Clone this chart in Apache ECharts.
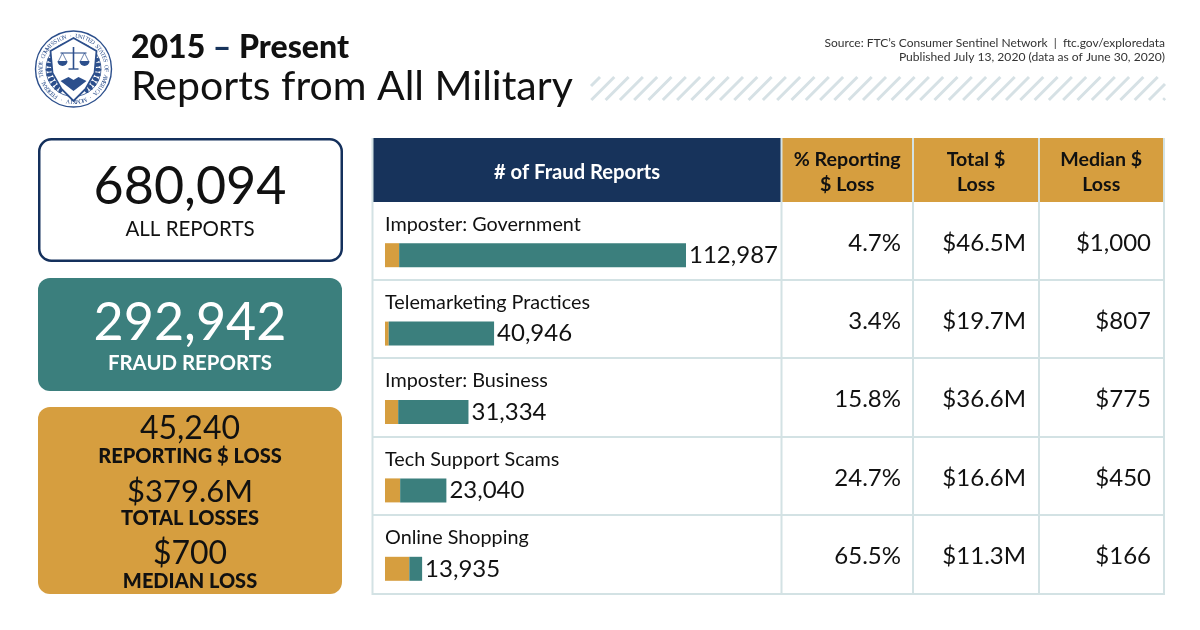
<!DOCTYPE html>
<html>
<head>
<meta charset="utf-8">
<title>Reports from All Military</title>
<script src="https://cdn.jsdelivr.net/npm/echarts@6/dist/echarts.min.js"></script>
<style>html,body{margin:0;padding:0;background:#fff}#main{width:1200px;height:630px}</style>
</head>
<body>
<div id="main"></div>
<script>
var categories = ['Imposter: Government', 'Telemarketing Practices', 'Imposter: Business', 'Tech Support Scams', 'Online Shopping'];
var fraudReports = [112987, 40946, 31334, 23040, 13935];
// reports with a loss / without
var withLoss = [5310, 1392, 4951, 5691, 9127];
var withoutLoss = [107677, 39554, 26383, 17349, 4808];
var pctLoss = ['4.7%', '3.4%', '15.8%', '24.7%', '65.5%'];
var totalLoss = ['$46.5M', '$19.7M', '$36.6M', '$16.6M', '$11.3M'];
var medianLoss = ['$1,000', '$807', '$775', '$450', '$166'];
var headers = ['% Reporting\n$ Loss', 'Total $\nLoss', 'Median $\nLoss'];

var FONT = 'Lato';
var NAVY = '#17335b', TEAL = '#3b7f7d', GOLD = '#d69e3f', LINE = '#d3e2e4', INK = '#111';
var rowY = [202, 280, 358, 437, 515, 594];
var colX = [373, 782, 913.5, 1039.5, 1164];
var colRight = [901, 1026, 1151];

var g = [];
function txt(s, x, y, size, weight, color, align) {
    g.push({type: 'text', x: x, y: y, z: 5, silent: true, style: {
        text: s, fontFamily: FONT, fontSize: size, fontWeight: weight, fill: color,
        align: align || 'center', verticalAlign: 'middle', lineHeight: size * 1.25
    }});
}
function box(x, y, w, h, fill, r, stroke, lw) {
    g.push({type: 'rect', z: 1, silent: true, shape: {x: x, y: y, width: w, height: h, r: r || 0},
        style: {fill: fill, stroke: stroke || null, lineWidth: lw || 0}});
}
function seg(x1, y1, x2, y2, color, lw) {
    g.push({type: 'line', z: 2, silent: true, shape: {x1: x1, y1: y1, x2: x2, y2: y2},
        style: {stroke: color, lineWidth: lw}});
}

// header
g.push({type: 'text', x: 131, y: 48, z: 5, style: {
    text: '{a|2015 }{b|–}{a| Present}', align: 'left', verticalAlign: 'middle',
    rich: {
        a: {fontFamily: FONT, fontSize: 32, fontWeight: 900, fill: INK},
        b: {fontFamily: FONT, fontSize: 32, fontWeight: 900, fill: NAVY}
    }
}});
txt('Reports from All Military', 131, 87, 41, 400, INK, 'left');
txt('Source: FTC’s Consumer Sentinel Network  |  ftc.gov/exploredata', 1165, 43, 12, 400, '#333', 'right');
txt('Published July 13, 2020 (data as of June 30, 2020)', 1165, 57, 12.1, 400, '#333', 'right');

// hatch strip
var hL = 591, hR = 1165, hT = 77, hB = 100;
for (var hx = hL - 14; hx < hR; hx += 14.3) {
    var x1 = hx, y1 = hB, x2 = hx + 23, y2 = hT;
    if (x1 < hL) { y1 = hB - (hL - x1); x1 = hL; }
    if (x2 > hR) { y2 = hT + (x2 - hR); x2 = hR; }
    seg(x1, y1, x2, y2, '#d6e1e5', 3);
}

// seal
var sx = 73.5, sy = 69, sealBlue = '#2c4f8c';
g.push({type: 'circle', z: 1, shape: {cx: sx, cy: sy, r: 38}, style: {fill: '#fff', stroke: sealBlue, lineWidth: 1.4}});
g.push({type: 'circle', z: 1, shape: {cx: sx, cy: sy, r: 27.5}, style: {fill: '#fff', stroke: sealBlue, lineWidth: 0.8}});
var ring = 'FEDERAL TRADE COMMISSION · UNITED STATES OF AMERICA · MCMXIV · ';
for (var i = 0; i < ring.length; i++) {
    var a = -Math.PI * 0.82 + i / ring.length * Math.PI * 2;   // clockwise, from lower left
    g.push({type: 'text', z: 3, x: sx + 32.7 * Math.sin(a), y: sy - 32.7 * Math.cos(a), rotation: -a, silent: true,
        style: {text: ring[i], fontFamily: 'Liberation Serif', fontSize: 6, fill: sealBlue, align: 'center', verticalAlign: 'middle'}});
}
// wreath
for (var k = 0; k < 9; k++) {
    var b = 1.0 + k * 0.2;
    [1, -1].forEach(function (side) {
        g.push({type: 'ellipse', z: 2, x: sx + side * 24.5 * Math.sin(b), y: sy - 24.5 * Math.cos(b), rotation: -side * b,
            shape: {cx: 0, cy: 0, rx: 2, ry: 3.4}, style: {fill: sealBlue}});
    });
}
g.push({type: 'polygon', z: 3, shape: {points: [[sx, sy - 31], [sx + 23, sy - 18], [sx + 21, sy + 4], [sx + 12, sy + 20], [sx, sy + 32], [sx - 12, sy + 20], [sx - 21, sy + 4], [sx - 23, sy - 18]]},
    style: {fill: '#fff', stroke: sealBlue, lineWidth: 1.8}});
g.push({type: 'polygon', z: 3, shape: {points: [[sx, sy + 22], [sx + 13, sy + 12], [sx + 5, sy + 8], [sx, sy + 11], [sx - 5, sy + 8], [sx - 13, sy + 12]]}, style: {fill: sealBlue}});
function sealLine(a1, b1, a2, b2, w) {
    g.push({type: 'line', z: 4, shape: {x1: sx + a1, y1: sy + b1, x2: sx + a2, y2: sy + b2}, style: {stroke: sealBlue, lineWidth: w}});
}
sealLine(0, -22, 0, 0, 1.6);
sealLine(-13, -16, 13, -16, 1.1);
sealLine(-5, 0, 5, 0, 1.4);
[-11, 11].forEach(function (d) {
    sealLine(d, -16, d - 4, -8, 0.7);
    sealLine(d, -16, d + 4, -8, 0.7);
    g.push({type: 'sector', z: 4, shape: {cx: sx + d, cy: sy - 8, r: 5, startAngle: 0, endAngle: Math.PI}, style: {fill: sealBlue}});
});

// left cards
box(39.25, 139.25, 302.5, 121.5, '#fff', 12, '#14305c', 2.5);
txt('680,094', 190, 187, 52, 400, INK);
txt('ALL REPORTS', 190, 229, 20.5, 400, INK);
box(38, 278, 304, 113, TEAL, 12);
txt('292,942', 190, 323, 52, 400, '#fff');
txt('FRAUD REPORTS', 190, 363, 20.4, 700, '#fff');
box(38, 407, 304, 187, GOLD, 12);
txt('45,240', 190, 429, 32, 400, INK);
txt('REPORTING $ LOSS', 190, 457, 20, 900, INK);
txt('$379.6M', 190, 492, 31, 400, INK);
txt('TOTAL LOSSES', 190, 519, 20, 900, INK);
txt('$700', 190, 554, 32, 400, INK);
txt('MEDIAN LOSS', 190, 582, 20, 900, INK);

// table header
box(colX[0], 138, colX[1] - colX[0] - 1, 64, NAVY);
txt('# of Fraud Reports', 577, 172, 20.2, 700, '#fff');
headers.forEach(function (h, c) {
    var l = colX[c + 1], r = colX[c + 2];
    box(l, 138, r - l - 1, 64, GOLD);
    txt(h, (l + r) / 2 - 0.5, 172, 19.6, 700, INK);
});
// table lines
rowY.forEach(function (y, i) { if (i) seg(373, y, 1164.5, y, LINE, 2); });
[372.5, 781.5, 913, 1039, 1164].forEach(function (x) { seg(x, 138, x, 595, LINE, 2); });

// table cells
categories.forEach(function (c, r) {
    var cy = (rowY[r] + rowY[r + 1]) / 2 + 2;
    txt(pctLoss[r], colRight[0], cy, 24, 400, INK, 'right');
    txt(totalLoss[r], colRight[1], cy, 24, 400, INK, 'right');
    txt(medianLoss[r], colRight[2], cy, 24, 400, INK, 'right');
});

var chart = echarts.init(document.getElementById('main'));
chart.setOption({
    animation: false,
    backgroundColor: '#fff',
    graphic: {elements: g},
    grid: {left: 385, top: 216, width: 301, height: 392},
    xAxis: {type: 'value', min: 0, max: 112987, show: false},
    yAxis: {type: 'category', inverse: true, data: categories, show: false},
    series: [
        {
            name: 'Reporting $ loss', type: 'bar', stack: 'r', barWidth: 24, data: withLoss,
            itemStyle: {color: GOLD},
            label: {
                show: true, position: [0, -29], color: INK, fontFamily: FONT, fontSize: 19.8,
                formatter: function (p) { return categories[p.dataIndex]; }
            }
        },
        {
            name: 'No loss reported', type: 'bar', stack: 'r', barWidth: 24, data: withoutLoss,
            itemStyle: {color: TEAL},
            label: {
                show: true, position: 'right', distance: 3, color: INK, fontFamily: FONT, fontSize: 24,
                formatter: function (p) { return fraudReports[p.dataIndex].toLocaleString('en-US'); }
            }
        }
    ]
});
</script>
</body>
</html>
